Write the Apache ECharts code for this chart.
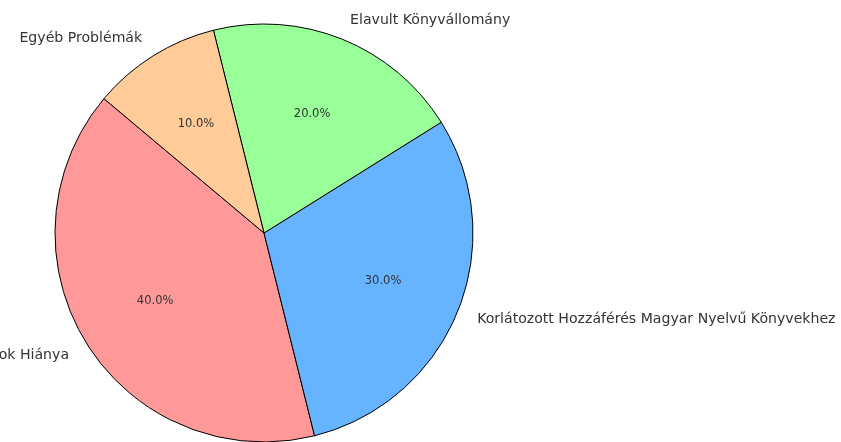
<!DOCTYPE html>
<html>
<head>
<meta charset="utf-8">
<script src="https://cdn.jsdelivr.net/npm/echarts@6/dist/echarts.min.js"></script>
<style>
  html, body { margin: 0; padding: 0; background: #fff; }
  #chart { width: 841px; height: 442px; }
</style>
</head>
<body>
<div id="chart"></div>
<script>
// adatok
const categories = [
  "Magyar Nyelvű Programok Hiánya",
  "Korlátozott Hozzáférés Magyar Nyelvű Könyvekhez",
  "Elavult Könyvállomány",
  "Egyéb Problémák",
];
const shares = [40, 30, 20, 10];
const colors = ["#ff9999", "#66b3ff", "#99ff99", "#ffcc99"];

const R = 209;
const center = [264, 233];
const font = "DejaVu Sans";

const chart = echarts.init(document.getElementById("chart"));

const pieData = categories.map((name, i) => ({
  name: name,
  value: shares[i],
  itemStyle: { color: colors[i] },
}));

chart.setOption({
  animation: false,
  series: [
    {
      type: "pie",
      center: center,
      radius: [0, R],
      startAngle: 140,
      clockwise: false,
      avoidLabelOverlap: false,
      silent: true,
      itemStyle: { borderColor: "#000", borderWidth: 1 },
      label: {
        show: true,
        position: "outside",
        distanceToLabelLine: 0,
        color: "#333",
        fontFamily: font,
        fontSize: 14.1,
        formatter: "{b}",
      },
      labelLine: { show: false, length: R * 0.1, length2: 0 },
      data: pieData,
    },
    {
      // csak a százalékos feliratokhoz
      type: "pie",
      center: center,
      radius: [R * 0.2, R],
      startAngle: 140,
      clockwise: false,
      avoidLabelOverlap: false,
      silent: true,
      itemStyle: { color: "rgba(0,0,0,0)", borderWidth: 0 },
      label: {
        show: true,
        position: "inside",
        color: "#333",
        fontFamily: font,
        fontSize: 11.5,
        formatter: (p) => p.value.toFixed(1) + "%",
      },
      labelLine: { show: false },
      data: categories.map((name, i) => ({ name: name, value: shares[i] })),
    },
  ],
});
</script>
</body>
</html>
